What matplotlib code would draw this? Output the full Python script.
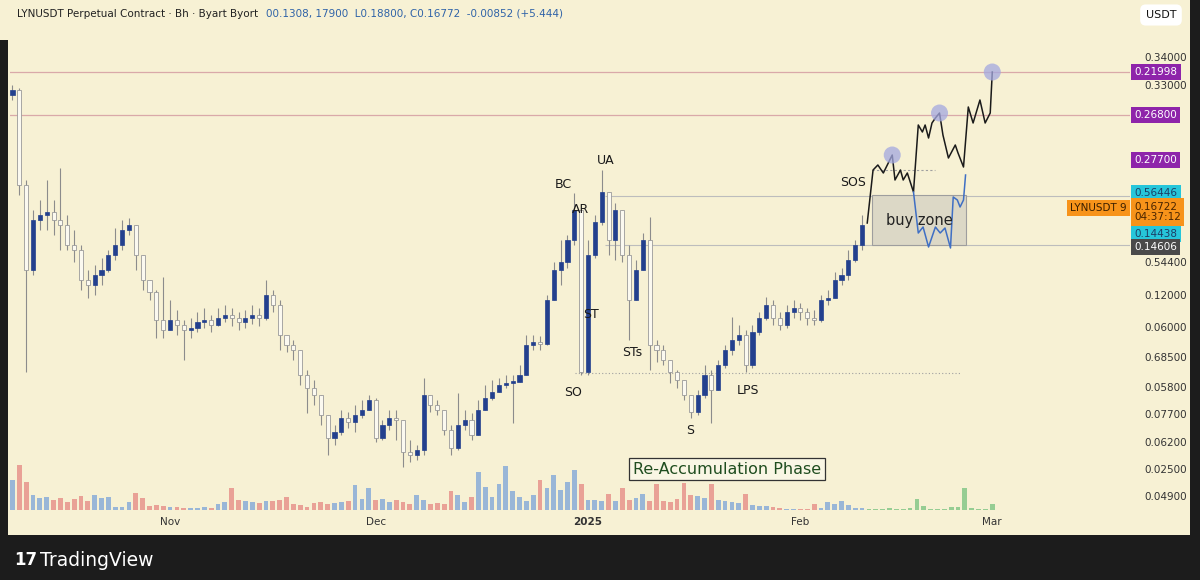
import numpy as np
import pandas as pd
import matplotlib
matplotlib.use("Agg")
import matplotlib.pyplot as plt
from matplotlib.patches import Rectangle

# ── Daten ────────────────────────────────────────────────────────────────────
start = pd.Timestamp("2024-10-09")          # erste Tageskerze
month_dates = ["2024-11-01", "2024-12-01", "2025-01-01", "2025-02-01", "2025-03-01"]
month_labels = ["Nov", "Dec", "2025", "Feb", "Mar"]

first_open = 0.415
closes = [0.420, 0.325, 0.240, 0.290, 0.295, 0.298, 0.290, 0.285, 0.265, 0.260,
          0.230, 0.225, 0.235, 0.240, 0.255, 0.265, 0.280, 0.285, 0.255, 0.230,
          0.218, 0.190, 0.180, 0.190, 0.185, 0.180, 0.182, 0.188, 0.190, 0.185,
          0.192, 0.195, 0.192, 0.188, 0.192, 0.195, 0.192, 0.215, 0.205, 0.175,
          0.165, 0.160, 0.135, 0.122, 0.115, 0.095, 0.072, 0.078, 0.092, 0.088,
          0.095, 0.100, 0.110, 0.072, 0.085, 0.092, 0.090, 0.058, 0.055, 0.060,
          0.115, 0.105, 0.100, 0.080, 0.062, 0.085, 0.090, 0.075, 0.100, 0.112,
          0.118, 0.125, 0.127, 0.128, 0.135, 0.165, 0.168, 0.166, 0.210, 0.240,
          0.248, 0.270, 0.300, 0.138, 0.255, 0.288, 0.318, 0.270, 0.300, 0.255,
          0.210, 0.240, 0.270, 0.165, 0.160, 0.150, 0.138, 0.130, 0.115, 0.098,
          0.115, 0.135, 0.120, 0.145, 0.160, 0.170, 0.175, 0.145, 0.178, 0.192,
          0.205, 0.192, 0.185, 0.198, 0.202, 0.198, 0.192, 0.190, 0.210, 0.212,
          0.230, 0.235, 0.250, 0.265, 0.285]
highs = [0.425, 0.422, 0.330, 0.300, 0.310, 0.330, 0.310, 0.342, 0.295, 0.280,
         0.265, 0.240, 0.245, 0.252, 0.260, 0.282, 0.290, 0.292, 0.285, 0.248,
         0.230, 0.220, 0.233, 0.210, 0.200, 0.190, 0.192, 0.198, 0.202, 0.195,
         0.202, 0.205, 0.202, 0.198, 0.200, 0.205, 0.202, 0.230, 0.220, 0.210,
         0.175, 0.170, 0.155, 0.140, 0.130, 0.110, 0.092, 0.085, 0.100, 0.098,
         0.105, 0.110, 0.115, 0.112, 0.090, 0.100, 0.100, 0.090, 0.070, 0.065,
         0.132, 0.115, 0.110, 0.090, 0.085, 0.117, 0.100, 0.097, 0.110, 0.125,
         0.130, 0.132, 0.135, 0.135, 0.145, 0.175, 0.175, 0.174, 0.215, 0.248,
         0.270, 0.275, 0.317, 0.300, 0.270, 0.295, 0.340, 0.300, 0.307, 0.270,
         0.265, 0.250, 0.277, 0.293, 0.170, 0.165, 0.150, 0.140, 0.125, 0.110,
         0.120, 0.145, 0.140, 0.150, 0.165, 0.193, 0.185, 0.180, 0.185, 0.198,
         0.213, 0.210, 0.198, 0.205, 0.210, 0.207, 0.202, 0.200, 0.215, 0.220,
         0.238, 0.242, 0.260, 0.270, 0.295]
lows = [0.410, 0.315, 0.138, 0.235, 0.280, 0.280, 0.275, 0.260, 0.260, 0.248,
        0.220, 0.212, 0.215, 0.225, 0.238, 0.250, 0.260, 0.275, 0.240, 0.220,
        0.210, 0.172, 0.172, 0.180, 0.175, 0.150, 0.172, 0.178, 0.182, 0.178,
        0.184, 0.188, 0.184, 0.180, 0.182, 0.186, 0.184, 0.190, 0.198, 0.160,
        0.158, 0.150, 0.125, 0.097, 0.105, 0.085, 0.055, 0.065, 0.075, 0.082,
        0.078, 0.092, 0.100, 0.068, 0.070, 0.080, 0.070, 0.043, 0.048, 0.050,
        0.055, 0.098, 0.095, 0.075, 0.055, 0.060, 0.080, 0.070, 0.085, 0.105,
        0.110, 0.118, 0.122, 0.087, 0.128, 0.150, 0.160, 0.160, 0.165, 0.210,
        0.225, 0.242, 0.265, 0.135, 0.135, 0.252, 0.285, 0.255, 0.250, 0.248,
        0.170, 0.215, 0.248, 0.140, 0.148, 0.145, 0.127, 0.122, 0.110, 0.092,
        0.095, 0.112, 0.087, 0.120, 0.142, 0.155, 0.165, 0.138, 0.142, 0.175,
        0.190, 0.185, 0.180, 0.182, 0.192, 0.190, 0.185, 0.185, 0.188, 0.205,
        0.212, 0.225, 0.230, 0.248, 0.260]

volumes = [30, 45, 28, 15, 12, 13, 10, 12, 8, 11, 14, 9, 15, 12, 13, 3, 3, 8, 17, 12,
           4, 5, 4, 3, 3, 2, 2, 2, 3, 2, 6, 8, 22, 10, 9, 8, 7, 9, 9, 10,
           13, 6, 5, 3, 7, 8, 6, 7, 8, 9, 25, 11, 22, 10, 11, 8, 10, 8, 6, 15,
           10, 6, 7, 6, 19, 15, 8, 13, 38, 23, 13, 26, 44, 19, 13, 9, 15, 30, 22, 35,
           20, 28, 40, 26, 10, 10, 9, 16, 9, 22, 10, 12, 16, 9, 26, 9, 8, 11, 27, 15,
           14, 12, 26, 10, 9, 8, 7, 16, 5, 4, 4, 3, 2, 1, 1, 1, 1, 6, 2, 8,
           6, 9, 5, 2, 2, 1, 1, 1, 2, 1, 1, 2, 11, 4, 1, 1, 1, 3, 3, 22,
           2, 1, 1, 6]

# Projektion (Tage seit Start, Preis)
proj_x = [124.75, 125.6, 126.3, 127.1, 128.4, 128.8, 129.6, 130.0, 130.6, 131.5,
          132.2, 132.8, 133.2, 133.7, 134.2, 134.7, 135.3, 135.8, 136.6, 137.6,
          138.0, 138.8, 139.5, 140.2, 141.2, 141.96, 142.7, 143.0]
proj_y = [0.287, 0.340, 0.345, 0.337, 0.355, 0.330, 0.340, 0.330, 0.337, 0.318,
          0.385, 0.378, 0.385, 0.372, 0.387, 0.392, 0.397, 0.375, 0.352, 0.365,
          0.357, 0.343, 0.403, 0.387, 0.410, 0.387, 0.397, 0.438]
peak_idx = [4, 16, 27]
retest_x = [131.5, 132.2, 132.9, 133.7, 134.7, 135.4, 136.1, 136.9, 137.3, 137.9,
            138.3, 138.8, 139.1]
retest_y = [0.318, 0.277, 0.283, 0.263, 0.283, 0.277, 0.282, 0.262, 0.313, 0.310,
            0.303, 0.310, 0.335]

buy_zone = (125.5, 139.2, 0.265, 0.315)   # x0, x1, y0, y1
so_level = 0.137
sos_level = 0.340
target_levels = [0.438, 0.395]
range_levels = [0.314, 0.265]

wyckoff = [("UA", 86.6, 0.350), ("BC", 80.4, 0.326), ("AR", 82.9, 0.301),
           ("ST", 84.5, 0.196), ("STs", 90.4, 0.157), ("SO", 81.8, 0.117),
           ("S", 98.9, 0.079), ("LPS", 107.4, 0.119), ("SOS", 122.7, 0.327)]

tick_vals = [0.453, 0.425, 0.248, 0.215, 0.183, 0.153, 0.123, 0.096, 0.068, 0.041, 0.014]
tick_labels = ["0.34000", "0.33000", "0.54400", "0.12000", "0.06000", "0.68500",
               "0.05800", "0.07700", "0.06200", "0.02500", "0.04900"]
box_vals = [0.438, 0.395, 0.350, 0.317, 0.298, 0.276, 0.263]
box_labels = ["0.21998", "0.26800", "0.27700", "0.56446", "0.16722\n04:37:12",
              "0.14438", "0.14606"]
box_colors = ["#8e24aa", "#8e24aa", "#8e24aa", "#26c6da", "#f7931a", "#26c6da", "#4a4a4a"]
box_text = ["white", "white", "white", "#1c3f66", "#4a2500", "#1c3f66", "white"]

# ── Figure ───────────────────────────────────────────────────────────────────
cream = "#f7f1d4"
fig = plt.figure(figsize=(12, 5.8), dpi=100, facecolor="#1c1c1c")

# Hintergrund (cremefarbenes Panel)
bg = fig.add_axes([0, 0, 1, 1], zorder=-10)
bg.set_xlim(0, 1200)
bg.set_ylim(580, 0)
bg.axis("off")
bg.add_patch(Rectangle((8, 0), 1182, 535, facecolor=cream, edgecolor="none"))
bg.add_patch(Rectangle((0, 0), 10, 40, facecolor=cream, edgecolor="none"))

pos = [10 / 1200, 70 / 580, 1120 / 1200, 465 / 580]
axv = fig.add_axes(pos, zorder=1)
ax = fig.add_axes(pos, sharex=axv, zorder=2)
for a in (ax, axv):
    a.patch.set_visible(False)
    for s in a.spines.values():
        s.set_visible(False)

n = len(closes)
xi = np.arange(n)
opens = np.array([first_open] + closes[:-1])
c = np.array(closes)
hi = np.maximum(np.array(highs), np.maximum(opens, c))
lo = np.minimum(np.array(lows), np.minimum(opens, c))
up = c >= opens

# Volumen
vx = np.arange(len(volumes))
vcol = []
for i in vx:
    if i < n:
        vcol.append("#8fb0d8" if up[i] else "#e89890")
    else:
        vcol.append("#8cc98c")
axv.bar(vx, volumes, width=0.7, color=vcol, alpha=0.9)
axv.set_ylim(0, 465)
axv.set_yticks([])
axv.tick_params(axis="x", length=0, labelbottom=False)

# Kerzen
ax.vlines(xi, lo, hi, color="#8c8c8c", lw=0.8, zorder=2)
body_h = np.maximum(np.abs(c - opens), 0.002)
ax.bar(xi[up], body_h[up], bottom=np.minimum(opens, c)[up], width=0.6,
       color="#23408e", edgecolor="#23408e", lw=0.5, zorder=3)
ax.bar(xi[~up], body_h[~up], bottom=np.minimum(opens, c)[~up], width=0.6,
       color="#fbf9f0", edgecolor="#9a9a9a", lw=0.6, zorder=3)

x_left, x_right = -0.36, 163.1
ax.set_xlim(x_left, x_right)
ax.set_ylim(0, 0.465)

# Linien
for lv in target_levels:
    ax.axhline(lv, color="#d9a9a9", lw=0.9, zorder=1)
ax.hlines(range_levels, 86.5, x_right, color="#bdbdbd", lw=0.8, zorder=1)
ax.hlines(so_level, 82.1, 138.3, color="#a0a0a0", lw=0.8, ls=(0, (1, 2)), zorder=1)
ax.hlines(sos_level, buy_zone[0], 134.7, color="#a0a0a0", lw=0.8, ls=(0, (2, 2)), zorder=1)

ax.add_patch(Rectangle((buy_zone[0], buy_zone[2]), buy_zone[1] - buy_zone[0],
                       buy_zone[3] - buy_zone[2], facecolor="#dcd8c6",
                       edgecolor="#9e9e9e", lw=0.8, zorder=1.5))
ax.text((buy_zone[0] + buy_zone[1]) / 2, 0.290, "buy zone", ha="center", va="center",
        fontsize=10.5, color="#222222", zorder=6)

ax.plot(proj_x, proj_y, color="#1a1a1a", lw=1.1, zorder=4)
ax.plot(retest_x, retest_y, color="#3f6fc4", lw=1.1, zorder=4)
ax.scatter([proj_x[k] for k in peak_idx], [proj_y[k] for k in peak_idx], s=150,
           color="#a3a8e0", alpha=0.75, edgecolors="none", zorder=5)

for lab, x, y in wyckoff:
    ax.text(x, y, lab, ha="center", va="center", fontsize=9, color="#1a1a1a", zorder=6)

ax.text(104.3, 0.041, "Re-Accumulation Phase", ha="center", va="center",
        fontsize=11.5, color="#1f4d1f", zorder=6,
        bbox=dict(boxstyle="square,pad=0.25", facecolor="#f9f6e4", edgecolor="#333333", lw=0.9))

# Achsen
ax.yaxis.tick_right()
ax.set_yticks(tick_vals)
ax.set_yticklabels(tick_labels)
ax.tick_params(axis="y", length=0, pad=10, labelsize=7.5, labelcolor="#333333")
tick_pos = [(pd.Timestamp(d) - start).days for d in month_dates]
ax.set_xticks(tick_pos)
ax.set_xticklabels(month_labels)
ax.tick_params(axis="x", length=0, pad=5, labelsize=7.5, labelcolor="#333333")
ax.get_xticklabels()[2].set_fontweight("bold")

ytr = ax.get_yaxis_transform()
for v, lab, bc, tc in zip(box_vals, box_labels, box_colors, box_text):
    ax.text(1.004, v, lab, transform=ytr, ha="left", va="center", fontsize=7.5,
            color=tc, linespacing=1.1, clip_on=False, zorder=7,
            bbox=dict(boxstyle="square,pad=0.3", facecolor=bc, edgecolor="none"))
ax.text(0.997, 0.302, "LYNUSDT 9", transform=ytr, ha="right", va="center",
        fontsize=7.5, color="#3a1f00", clip_on=False, zorder=7,
        bbox=dict(boxstyle="square,pad=0.3", facecolor="#f7931a", edgecolor="none"))

# Kopfzeile
head = fig.text(17 / 1200, 1 - 14 / 580, "LYNUSDT Perpetual Contract · Bh · Byart Byort",
                fontsize=7.5, color="#222222", va="center")
fig.canvas.draw()
bb = head.get_window_extent()
fig.text((bb.x1 + 8) / 1200, 1 - 14 / 580,
         "00.1308, 17900  L0.18800, C0.16772  -0.00852 (+5.444)",
         fontsize=7.5, color="#2f63a8", va="center")
fig.text(1161 / 1200, 1 - 15 / 580, "USDT", fontsize=8, color="#111111", ha="center",
         va="center", bbox=dict(boxstyle="round,pad=0.5", facecolor="white", edgecolor="none"))

fig.text(14 / 1200, 1 - 560 / 580, "17", fontsize=12, fontweight="heavy",
         color="white", va="center")
fig.text(40 / 1200, 1 - 560 / 580, "TradingView", fontsize=13.5, color="white", va="center")

fig.savefig("out.png", dpi=100, facecolor=fig.get_facecolor())
